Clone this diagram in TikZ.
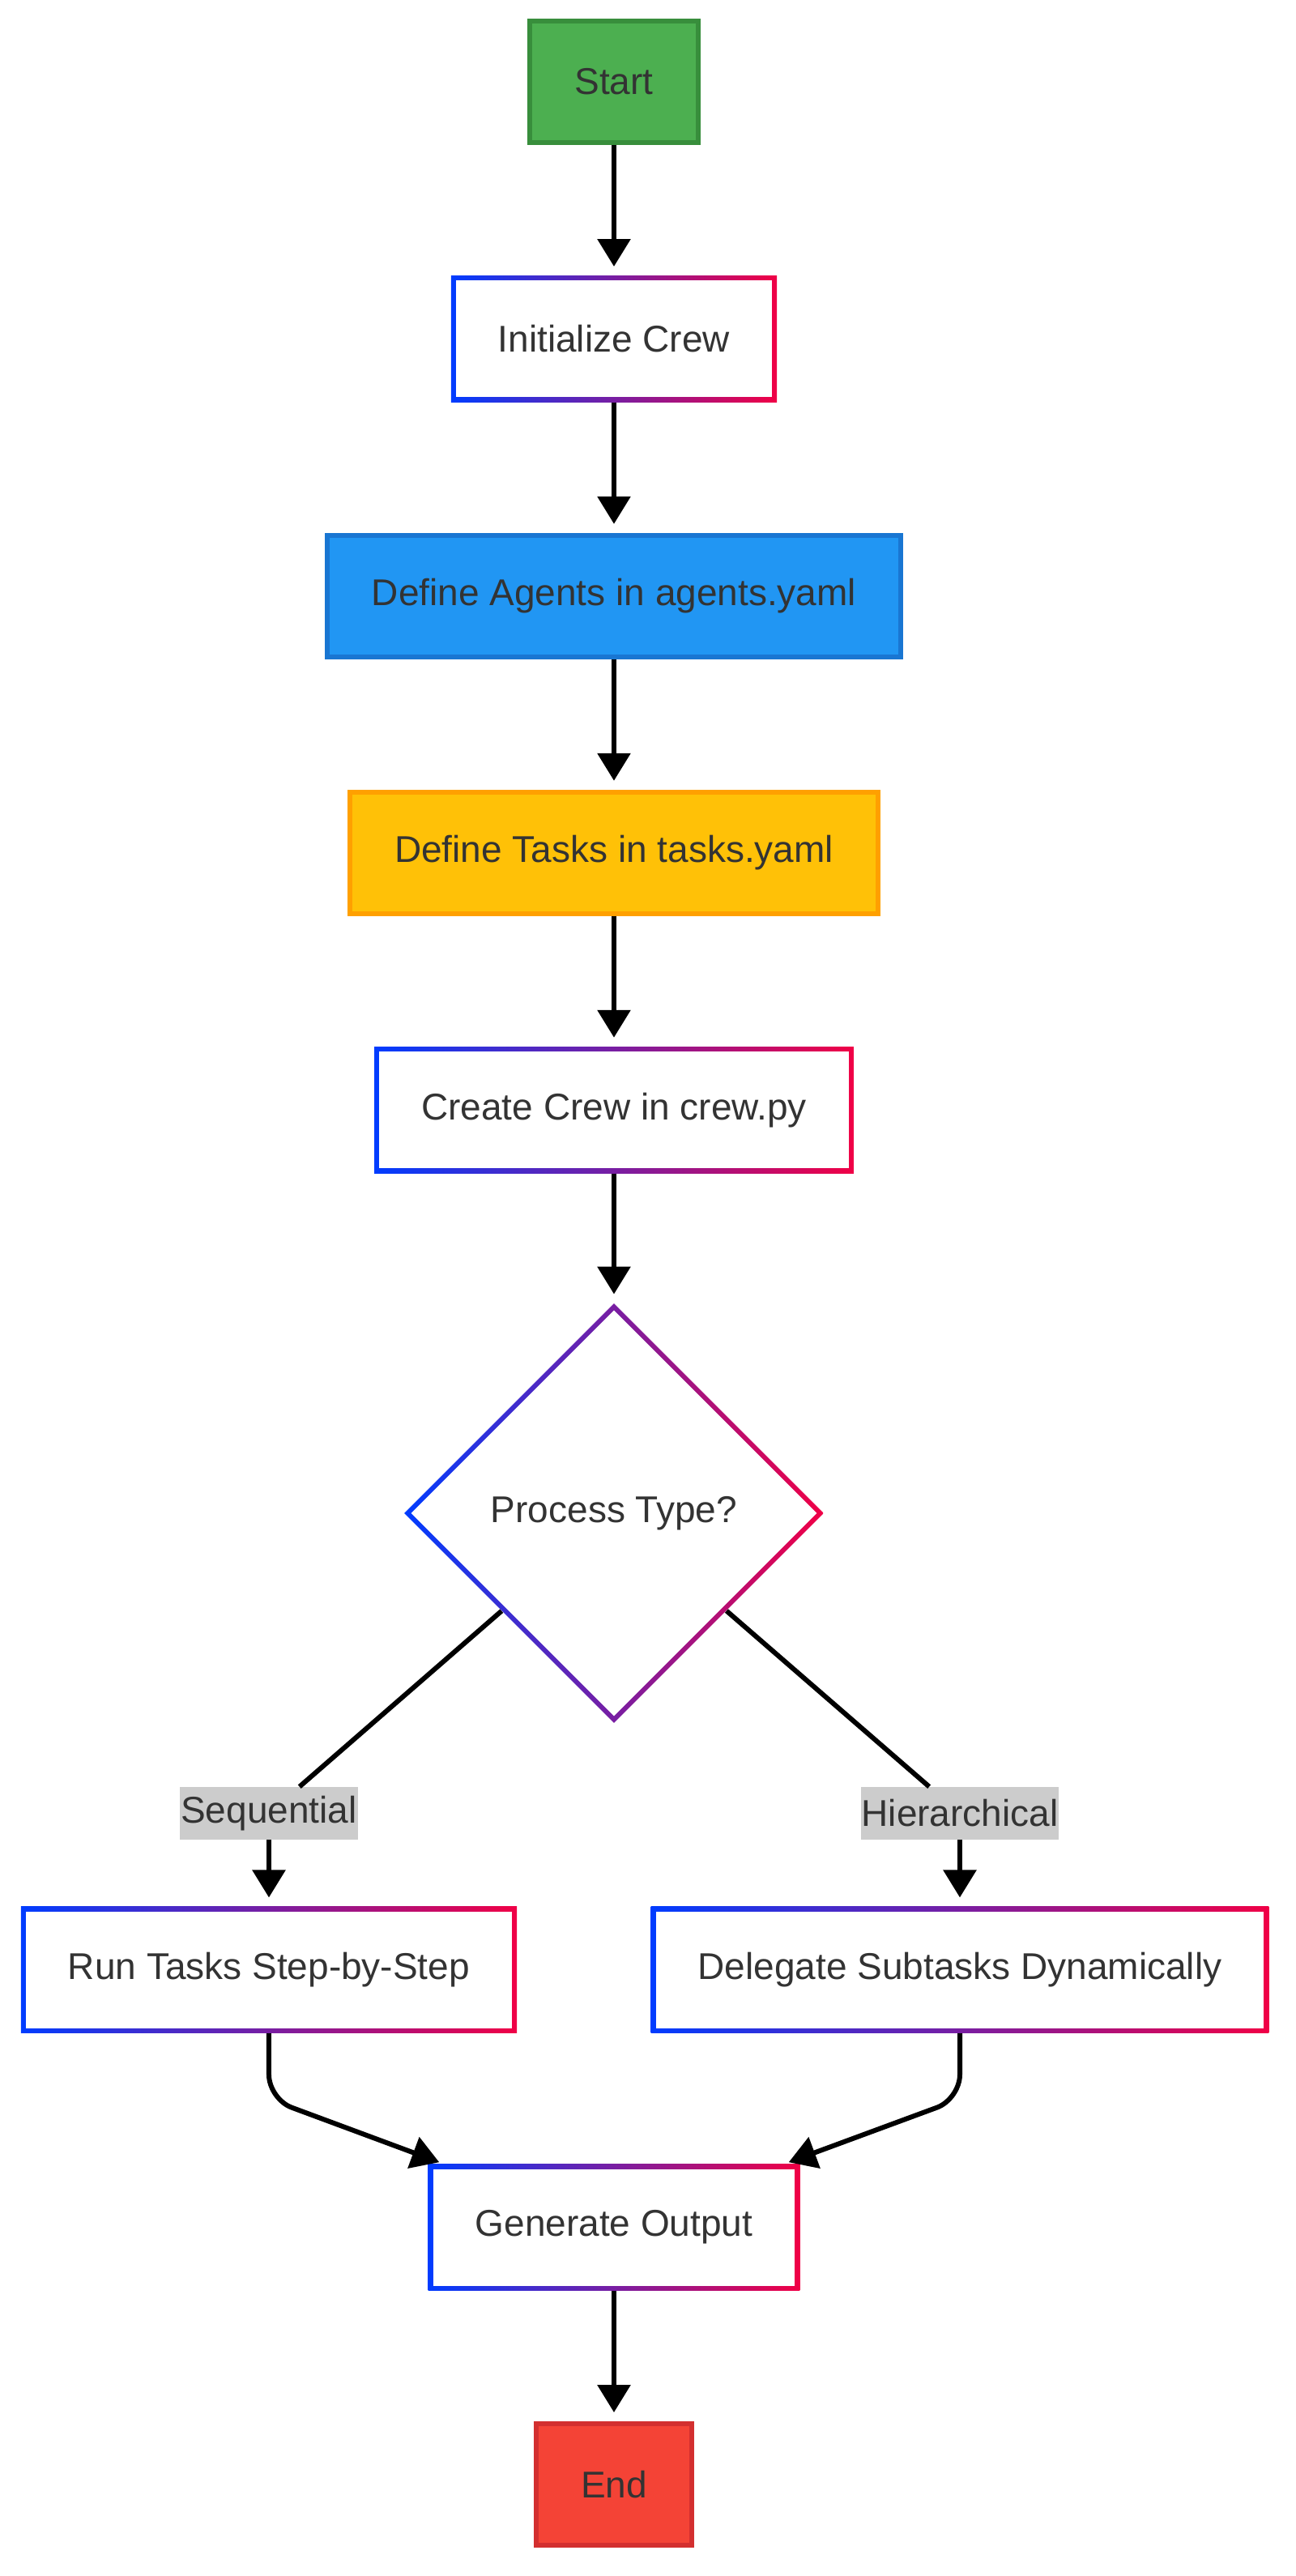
\documentclass[tikz,border=0pt]{standalone}
\usepackage{fontspec}
\setmainfont{Liberation Sans}
\usetikzlibrary{arrows.meta,positioning,shapes.geometric}

\definecolor{txt}{RGB}{51,51,51}
\definecolor{gblue}{RGB}{0,60,255}
\definecolor{gred}{RGB}{240,0,70}
\definecolor{startfill}{RGB}{76,175,80}
\definecolor{startline}{RGB}{56,142,60}
\definecolor{agentfill}{RGB}{33,150,243}
\definecolor{agentline}{RGB}{25,118,210}
\definecolor{taskfill}{RGB}{255,193,7}
\definecolor{taskline}{RGB}{255,160,0}
\definecolor{endfill}{RGB}{244,67,54}
\definecolor{endline}{RGB}{211,47,47}
\definecolor{lblgray}{RGB}{204,204,204}

\begin{document}
\begin{tikzpicture}[node distance=80.5pt, >={Triangle[length=17pt,width=20pt]},
  every node/.style={font=\fontsize{23pt}{28pt}\selectfont, text=txt},
  solidbox/.style={rectangle, draw, line width=3pt, minimum height=75pt, inner xsep=27.5pt},
  gradbox/.style={rectangle, minimum height=78pt, inner xsep=29pt, path picture={
    \shade[left color=gblue, right color=gred] (path picture bounding box.south west) rectangle (path picture bounding box.north east);
    \fill[white] ([shift={(3pt,3pt)}]path picture bounding box.south west) rectangle ([shift={(-3pt,-3pt)}]path picture bounding box.north east);}},
  graddiamond/.style={diamond, minimum width=259pt, minimum height=259pt, inner sep=0pt, path picture={
    \shade[left color=gblue, right color=gred] (path picture bounding box.south west) rectangle (path picture bounding box.north east);
    \fill[white] ([xshift=4.2pt]path picture bounding box.west) -- ([yshift=-4.2pt]path picture bounding box.north)
      -- ([xshift=-4.2pt]path picture bounding box.east) -- ([yshift=4.2pt]path picture bounding box.south) -- cycle;}},
  edgelabel/.style={fill=lblgray, inner xsep=0.5pt, inner ysep=0pt, minimum height=32.5pt},
  flow/.style={->, line width=3pt},
  gap/.style={shorten >=5.5pt}]
\useasboundingbox (-379pt,50.5pt) rectangle (421pt,-1539.5pt);

\node (Start) [solidbox, fill=startfill, draw=startline] {Start};
\node (Init) [gradbox, below=of Start] {Initialize Crew};
\node (Agents) [solidbox, fill=agentfill, draw=agentline, below=of Init] {Define Agents in agents.yaml};
\node (Tasks) [solidbox, fill=taskfill, draw=taskline, below=of Agents] {Define Tasks in tasks.yaml};
\node (Crew) [gradbox, below=of Tasks] {Create Crew in crew.py};
\node (Proc) [graddiamond, below=80pt of Crew] {Process Type?};
\node (Seq) [gradbox, below=113pt of Proc, xshift=-213pt] {Run Tasks Step-by-Step};
\node (Hier) [gradbox, below=113pt of Proc, xshift=213.5pt] {Delegate Subtasks Dynamically};
\node (lblSeq) [edgelabel, above=41pt of Seq] {Sequential};
\node (lblHier) [edgelabel, above=41pt of Hier] {Hierarchical};
\coordinate (mid) at (Proc |- Seq.south);
\node (Out) [gradbox, below=of mid] {Generate Output};
\node (End) [solidbox, fill=endfill, draw=endline, below=of Out] {End};

\draw[flow, gap] (Start) -- (Init);
\draw[flow, gap] (Init) -- (Agents);
\draw[flow, gap] (Agents) -- (Tasks);
\draw[flow, gap] (Tasks) -- (Crew);
\draw[flow, gap] (Crew) -- (Proc);
\draw[line width=3pt] (Proc) -- (lblSeq);
\draw[line width=3pt] (Proc) -- (lblHier);
\draw[flow, gap] (lblSeq) -- (Seq);
\draw[flow, gap] (lblHier) -- (Hier);
\draw[flow, rounded corners=15pt] (Seq.south) -- ++(0,-40.5pt) -- ([xshift=7pt,yshift=1pt]Out.north west);
\draw[flow, rounded corners=15pt] (Hier.south) -- ++(0,-40.5pt) -- ([xshift=-7pt,yshift=1pt]Out.north east);
\draw[flow, gap] (Out) -- (End);
\end{tikzpicture}
\end{document}
